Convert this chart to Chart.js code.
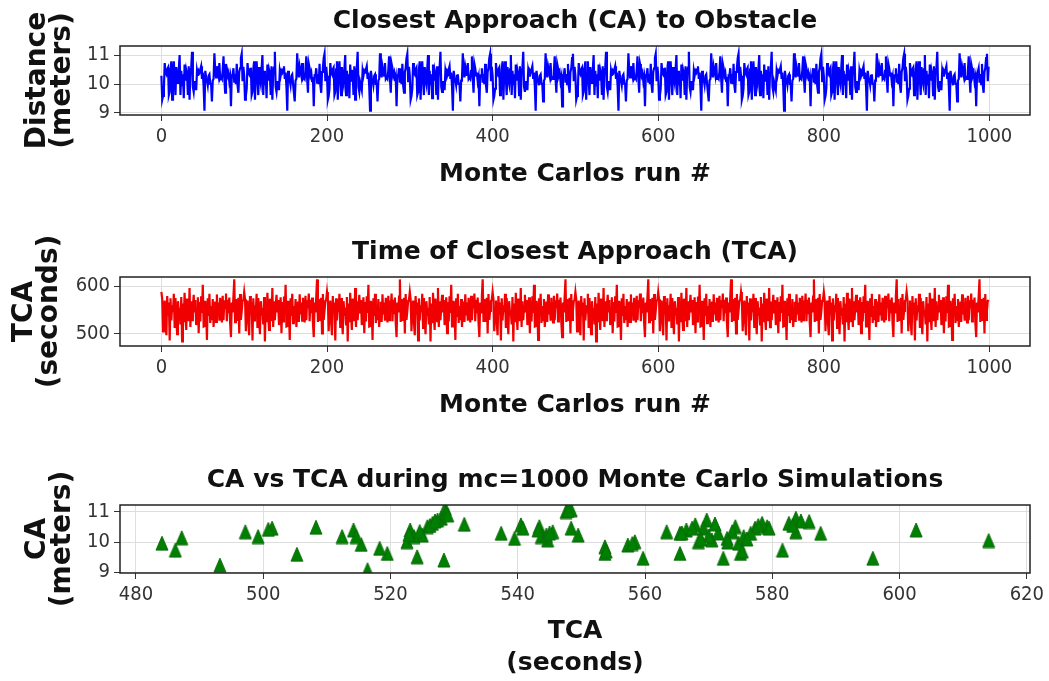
<!DOCTYPE html>
<html>
<head>
<meta charset="utf-8">
<script src="https://cdn.jsdelivr.net/npm/chart.js@4/dist/chart.umd.min.js"></script>
<style>
  html, body { margin: 0; padding: 0; background: #fff; overflow: hidden; }
  canvas { position: absolute; left: 0; }
</style>
</head>
<body>
<canvas id="caChart" width="1049" height="195" style="top:0"></canvas>
<canvas id="tcaChart" width="1049" height="195" style="top:231px"></canvas>
<canvas id="mcChart" width="1049" height="222" style="top:459px"></canvas>
<script>
// closest approach distance (m) and time of closest approach (s) for one
// cycle of 100 cases; the 1000 Monte Carlo runs step through this cycle
var ca = [
  10.29, 9.46, 9.59, 9.84, 10.73, 10.40, 10.34, 10.51, 10.57, 9.62,
  9.73, 10.51, 10.79, 9.46, 10.34, 10.79, 10.18, 9.62, 10.59, 10.18,
  10.01, 10.51, 11.01, 9.62, 10.46, 9.96, 10.34, 9.51, 10.68, 10.12,
  10.49, 10.34, 9.62, 10.62, 9.46, 10.40, 10.57, 11.12, 9.90, 9.73,
  10.07, 10.07, 9.79, 10.46, 10.29, 10.46, 10.40, 10.51, 10.62, 10.18,
  10.40, 9.92, 9.08, 10.46, 10.23, 10.14, 9.96, 10.29, 10.34, 10.01,
  10.01, 9.40, 10.12, 10.18, 11.07, 10.46, 10.23, 10.62, 10.46, 10.29,
  10.73, 10.18, 10.23, 10.18, 10.46, 10.96, 10.20, 9.70, 10.70, 10.55,
  10.30, 10.40, 10.10, 10.25, 9.23, 10.30, 10.30, 10.55, 10.05, 10.35,
  10.00, 10.70, 9.95, 9.70, 10.42, 10.55, 10.90, 11.05, 10.10, 10.60
];
var tca = [
  587.6, 572.3, 505.3, 553.7, 569.7, 523.1, 497.2, 579.2, 540.5, 565.5,
  486.2, 574.2, 528.0, 559.7, 545.5, 583.7, 512.4, 575.0, 531.6, 499.2,
  568.4, 543.4, 547.6, 519.5, 577.3, 484.1, 563.4, 524.2, 585.8, 539.5,
  508.3, 573.7, 553.7, 526.6, 595.8, 514.2, 567.9, 528.6, 557.3, 581.6,
  544.7, 570.5, 518.3, 548.4, 576.6, 501.4, 566.5, 525.8, 578.4, 543.7,
  602.6, 515.4, 516.4, 569.2, 549.5, 487.2, 574.7, 537.4, 583.7, 522.6,
  558.4, 528.4, 572.9, 514.6, 548.4, 567.4, 525.0, 582.6, 540.8, 565.5,
  527.4, 575.5, 544.5, 523.7, 579.5, 528.7, 570.0, 553.9, 584.5, 526.2,
  571.5, 543.2, 576.0, 522.9, 493.2, 565.8, 545.0, 577.8, 614.0, 524.6,
  573.0, 527.0, 558.0, 575.3, 500.8, 583.2, 529.0, 547.9, 568.8, 571.0
];
var runCount = 1000;
var runTicks = [0, 200, 400, 600, 800, 1000];
var caTicks = [9, 10, 11];
var tcaTicks = [500, 600];
var tcaAxisTicks = [480, 500, 520, 540, 560, 580, 600, 620];

var FONT = "'DejaVu Sans', sans-serif";
var TICK_FONT = "'DejaVu Sans Condensed', 'DejaVu Sans', sans-serif";

// box around every plot area
var frame = {
  id: "frame",
  afterDatasetsDraw: function (c) {
    var a = c.chartArea, g = c.ctx;
    g.save();
    g.strokeStyle = "#222";
    g.lineWidth = 1.5;
    g.strokeRect(a.left, a.top, a.right - a.left, a.bottom - a.top);
    g.restore();
  }
};

function fixedTicks(list) {
  return function (s) {
    s.ticks = list.map(function (v) { return { value: v }; });
  };
}

function axis(o) {
  var horiz = o.pos === "bottom";
  return {
    type: "linear",
    position: o.pos,
    min: o.min,
    max: o.max,
    afterBuildTicks: fixedTicks(o.ticks),
    afterFit: function (s) {
      if (horiz) s.height = o.size;
      else s.width = o.size;
    },
    grid: { color: "#dedede", lineWidth: 1, tickColor: "#333", tickLength: 6 },
    border: { display: false },
    ticks: {
      color: "#333",
      padding: 4,
      maxRotation: 0,
      autoSkip: false,
      font: { family: TICK_FONT, size: 20 },
      callback: function (v) { return String(v); }
    },
    title: {
      display: true,
      text: o.title,
      color: "#111",
      padding: o.titlePad,
      font: { family: FONT, weight: "bold", size: o.titleSize, lineHeight: o.titleLh }
    }
  };
}

function panel(id, type, datasets, titleText, x, y) {
  return new Chart(document.getElementById(id), {
    type: type,
    data: { datasets: datasets },
    options: {
      responsive: false,
      animation: false,
      layout: { padding: { left: 0, right: 19, top: 0, bottom: 0 } },
      plugins: {
        legend: { display: false },
        tooltip: { enabled: false },
        title: {
          display: true,
          fullSize: false,
          text: titleText,
          color: "#111",
          padding: { top: 6, bottom: 10 },
          font: { family: FONT, weight: "bold", size: 25, lineHeight: 1.2 }
        }
      },
      scales: { x: x, y: y }
    },
    plugins: [frame]
  });
}

function runSeries(values) {
  var pts = [];
  for (var i = 0; i < runCount; i++) pts.push({ x: i, y: values[i % values.length] });
  return pts;
}

// upward triangle marker, box-centred on the point
function triangleMarker() {
  var c = document.createElement("canvas");
  c.width = 14;
  c.height = 16;
  var g = c.getContext("2d");
  g.beginPath();
  g.moveTo(7, 1);
  g.lineTo(13, 15);
  g.lineTo(1, 15);
  g.closePath();
  g.fillStyle = "#008000";
  g.fill();
  g.strokeStyle = "#0a6a0a";
  g.lineWidth = 1;
  g.stroke();
  return c;
}

var runAxis = function () {
  return axis({ pos: "bottom", min: -50, max: 1049, ticks: runTicks, size: 80,
    title: "Monte Carlos run #", titleSize: 25, titleLh: 1.2, titlePad: { top: 0, bottom: 6 } });
};

panel("caChart", "line",
  [{ data: runSeries(ca), borderColor: "#0000ff", borderWidth: 2.2, pointRadius: 0, tension: 0 }],
  "Closest Approach (CA) to Obstacle",
  runAxis(),
  axis({ pos: "left", min: 8.93, max: 11.32, ticks: caTicks, size: 120,
    title: ["Distance", "(meters)"], titleSize: 28, titleLh: 0.9, titlePad: { top: 25, bottom: 0 } }));

panel("tcaChart", "line",
  [{ data: runSeries(tca), borderColor: "#f00000", borderWidth: 2.2, pointRadius: 0, tension: 0 }],
  "Time of Closest Approach (TCA)",
  runAxis(),
  axis({ pos: "left", min: 474.5, max: 619, ticks: tcaTicks, size: 120,
    title: ["TCA", "(seconds)"], titleSize: 28, titleLh: 0.9, titlePad: { top: 12, bottom: 0 } }));

panel("mcChart", "scatter",
  [{
    data: tca.map(function (t, i) { return { x: t, y: ca[i] }; }),
    pointStyle: triangleMarker(),
    pointRadius: 7
  }],
  "CA vs TCA during mc=1000 Monte Carlo Simulations",
  axis({ pos: "bottom", min: 477.5, max: 620.5, ticks: tcaAxisTicks, size: 108,
    title: ["TCA", "(seconds)"], titleSize: 25, titleLh: 1.28, titlePad: { top: 0, bottom: 2 } }),
  axis({ pos: "left", min: 8.97, max: 11.23, ticks: caTicks, size: 120,
    title: ["CA", "(meters)"], titleSize: 28, titleLh: 0.9, titlePad: { top: 25, bottom: 0 } }));
</script>
</body>
</html>
